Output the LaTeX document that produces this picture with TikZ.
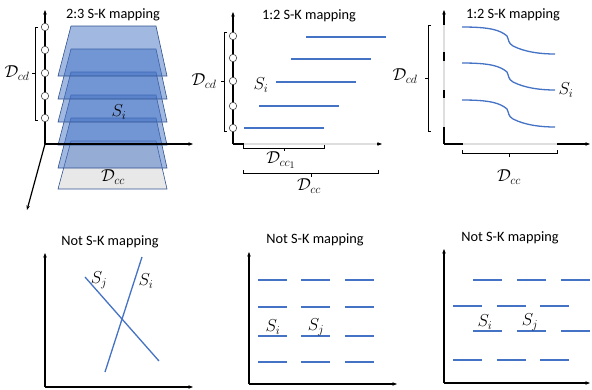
\documentclass[tikz,border=0pt]{standalone}
\usepackage{amsmath,amssymb}
\usepackage{fontspec}
\newfontfamily\titlefont{Carlito}
\usepackage{tikz}
\usetikzlibrary{arrows.meta}
\definecolor{skBlue}{RGB}{68,114,196}
\definecolor{skEdge}{RGB}{47,82,143}
\definecolor{axGray}{RGB}{222,222,222}
\definecolor{ccGray}{RGB}{232,232,232}

\begin{document}
\begin{tikzpicture}[x=1pt, y=-1pt, >={Stealth[length=4.5pt,width=3.5pt]},
  ttl/.style={font=\titlefont\fontsize{14.3}{16}\selectfont, inner sep=0pt},
  lbl/.style={font=\LARGE, inner sep=0pt},
  ax/.style={->, line width=1.2pt},
  sk/.style={draw=skBlue, line width=1.3pt},
  brk/.style={line width=0.8pt},
  dot/.style={circle, draw=black!70, fill=white, line width=0.6pt,
              minimum size=7.5pt, inner sep=0pt},
  plane/.style={draw=skEdge, line width=0.6pt, fill=skBlue,
                fill opacity=0.5, draw opacity=1}]
  \useasboundingbox (0,0) rectangle (592,389);

  % 2:3 mapping, stacked planes
  \node[ttl] (t1) at (113,15) {2:3 S-K mapping};
  \filldraw[draw=skEdge, fill=ccGray, line width=0.6pt]
    (71,141) -- (156,141) -- (167,189) -- (58,189) -- cycle;
  \foreach \k in {4,3,...,0}
    \filldraw[plane] (71,26+23*\k) -- (156,26+23*\k) -- (167,76+23*\k)
      -- (58,76+23*\k) -- cycle;
  \node[lbl] (si1) at (119,112) {$S_i$};
  \node[lbl] (dcc1) at (113,177) {$\mathcal{D}_{cc}$};
  \coordinate (o1) at (45,144);
  \draw[ax] (o1) -- (45,10);
  \draw[ax] (o1) -- (193,144);
  \draw[ax] (o1) -- (27,210);
  \foreach \y in {27,50,73,96,118} \node[dot] at (45,\y) {};
  \draw[brk] (38,27) -- (35,27) -- (35,120) -- (38,120) (35,73) -- (32,73);
  \node[lbl] (dcd1) at (17,73) {$\mathcal{D}_{cd}$};

  % 1:2 mapping, shifted segments
  \node[ttl] (t2) at (309,16) {1:2 S-K mapping};
  \coordinate (o2) at (233,144);
  \draw[ax] (o2) -- (233,12);
  \draw[ax] (o2) -- (382,144);
  \draw[axGray, line width=1.2pt] (244,144) -- (377,144);
  \foreach \y/\x in {37/306,59/291,82/276,106/259,128/244}
    \draw[sk] (\x,\y) -- ++(80,0);
  \foreach \y in {36,58,81,106,128} \node[dot] at (233,\y) {};
  \draw[brk] (227,32) -- (224,32) -- (224,131) -- (227,131) (224,81) -- (221,81);
  \node[lbl] (dcd2) at (204,81) {$\mathcal{D}_{cd}$};
  \node[lbl] (si2) at (261,85) {$S_i$};
  \draw[brk] (243,145) -- (243,148) -- (324,148) -- (324,145) (284,148) -- (284,151);
  \node[lbl] (dcc2a) at (281,160) {$\mathcal{D}_{cc_1}$};
  \draw[brk] (243,170) -- (243,173) -- (378,173) -- (378,170) (311,173) -- (311,177);
  \node[lbl] (dcc2) at (309,186) {$\mathcal{D}_{cc}$};

  % 1:2 mapping, curves
  \node[ttl] (t3) at (513,15) {1:2 S-K mapping};
  \coordinate (o3) at (444,144);
  \draw[ax] (o3) -- (444,10);
  \draw[ax] (o3) -- (590,144);
  \draw[axGray, line width=1.2pt] (444,25) -- (444,52) (444,61) -- (444,90)
    (444,98) -- (444,127) (463,144) -- (557,144);
  \foreach \dy in {0,36,73}
    \draw[sk] (462,27+\dy) .. controls (490,27+\dy) and (500,30+\dy) .. (507,36+\dy)
      .. controls (509,40+\dy) and (508,43+\dy) .. (513,46+\dy)
      .. controls (525,52+\dy) and (540,54+\dy) .. (555,54+\dy);
  \draw[brk] (431,25) -- (428,25) -- (428,131) -- (431,131) (428,78) -- (425,78);
  \node[lbl] (dcd3) at (405,76) {$\mathcal{D}_{cd}$};
  \node[lbl] (si3) at (566,90) {$S_i$};
  \draw[brk] (462,150) -- (462,153) -- (557,153) -- (557,150) (509,153) -- (509,157);
  \node[lbl] (dcc3) at (509,177) {$\mathcal{D}_{cc}$};

  % not S-K, crossing lines
  \node[ttl] (t4) at (110,242) {Not S-K mapping};
  \coordinate (o4) at (45,387);
  \draw[ax] (o4) -- (45,253);
  \draw[ax] (o4) -- (193,387);
  \draw[sk] (85,277) -- (159,361);
  \draw[sk] (142,257) -- (105,372);
  \node[lbl] (sj4) at (99,280) {$S_j$};
  \node[lbl] (si4) at (146,281) {$S_i$};

  % not S-K, grid
  \node[ttl] (t5) at (315,240) {Not S-K mapping};
  \coordinate (o5) at (249,384);
  \draw[ax] (o5) -- (249,252);
  \draw[ax] (o5) -- (397,384);
  \foreach \y in {280,307,336,362}
    \foreach \x in {258,301,345} \draw[sk] (\x,\y) -- ++(29,0);
  \node[lbl] (si5) at (273,327) {$S_i$};
  \node[lbl] (sj5) at (316,327) {$S_j$};

  % not S-K, staggered grid
  \node[ttl] (t6) at (510,238) {Not S-K mapping};
  \coordinate (o6) at (444,383);
  \draw[ax] (o6) -- (444,249);
  \draw[ax] (o6) -- (590,383);
  \foreach \y in {280,331}
    \foreach \x in {473,517,561} \draw[sk] (\x,\y) -- ++(29,0);
  \foreach \y in {306,360}
    \foreach \x in {453,497,540} \draw[sk] (\x,\y) -- ++(29,0);
  \node[lbl] (si6) at (485,322) {$S_i$};
  \node[lbl] (sj6) at (530,322) {$S_j$};
\end{tikzpicture}
\end{document}
